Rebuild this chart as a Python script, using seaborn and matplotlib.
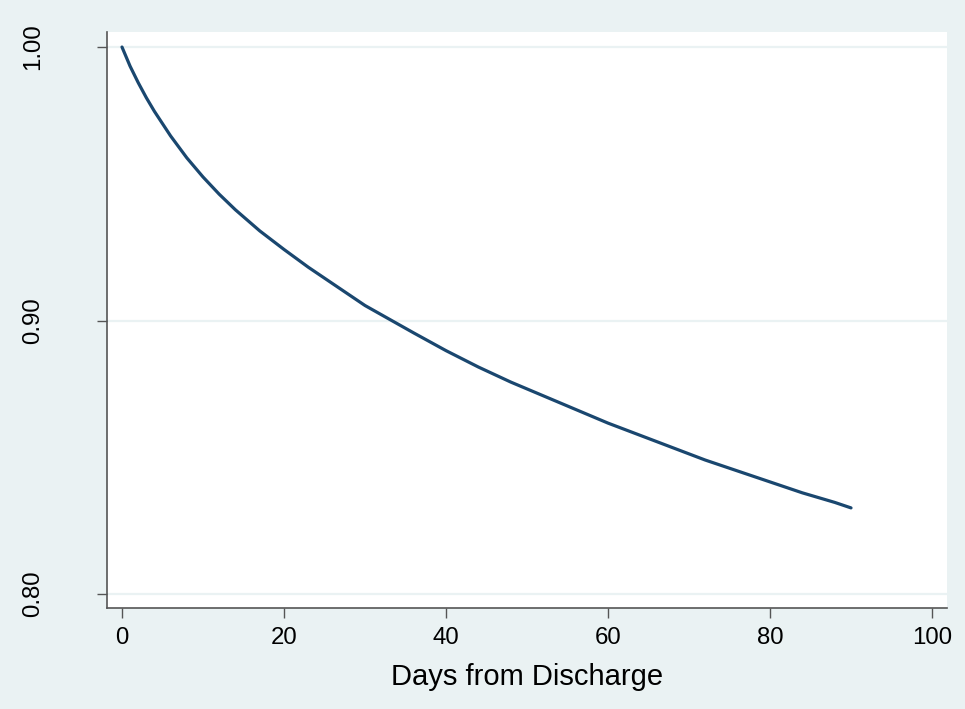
import matplotlib
matplotlib.use("Agg")
import matplotlib.pyplot as plt
import seaborn as sns
import pandas as pd

# Survival estimate by days since discharge
days = [0, 1, 2, 3, 4, 6, 8, 10, 12, 14, 17, 20, 23, 26, 30, 33, 36, 40,
        44, 48, 52, 56, 60, 64, 68, 72, 76, 80, 84, 88, 90]
survival = [1.000, 0.993, 0.987, 0.9815, 0.9765, 0.9675, 0.9595, 0.9525,
            0.9462, 0.9405, 0.9328, 0.926, 0.9195, 0.9135, 0.9055, 0.9005,
            0.8955, 0.889, 0.883, 0.8775, 0.8725, 0.8675, 0.8625, 0.858,
            0.8535, 0.849, 0.845, 0.841, 0.837, 0.8335, 0.8315]
x_ticks = [0, 20, 40, 60, 80, 100]
y_ticks = [0.80, 0.90, 1.00]
y_tick_labels = ["0.80", "0.90", "1.00"]

BG = "#EAF2F3"
NAVY = "#1A476F"

sns.set_style("white")
plt.rcParams["font.family"] = ["Liberation Sans", "DejaVu Sans"]

fig = plt.figure(figsize=(9.65, 7.09), dpi=100, facecolor=BG)
ax = fig.add_axes([107 / 965, 1 - 608 / 709, 840 / 965, 576 / 709])
ax.set_facecolor("white")

df = pd.DataFrame({"days": days, "survival": survival})
for yt in y_ticks:
    ax.axhline(yt, color=BG, lw=1.6, zorder=0)
sns.lineplot(data=df, x="days", y="survival", ax=ax, color=NAVY, lw=2.3,
             zorder=3)

ax.set_xlim(-1.85, 101.85)
ax.set_ylim(0.7949, 1.0055)
ax.set_xticks(x_ticks)
ax.set_yticks(y_ticks)
ax.set_yticklabels(y_tick_labels, rotation=90, va="center")

for side in ["top", "right"]:
    ax.spines[side].set_visible(False)
for side in ["left", "bottom"]:
    ax.spines[side].set_color("#555555")
    ax.spines[side].set_linewidth(1.2)

ax.tick_params(axis="both", which="major", direction="out", length=7,
               width=1.0, color="#555555", labelsize=17.3, labelcolor="black",
               bottom=True, left=True)
ax.tick_params(axis="y", pad=38)
ax.tick_params(axis="x", pad=7)

ax.set_xlabel("Days from Discharge", fontsize=21, labelpad=10, color="black")
ax.set_ylabel("")

fig.savefig("out.png", dpi=100, facecolor=BG)
